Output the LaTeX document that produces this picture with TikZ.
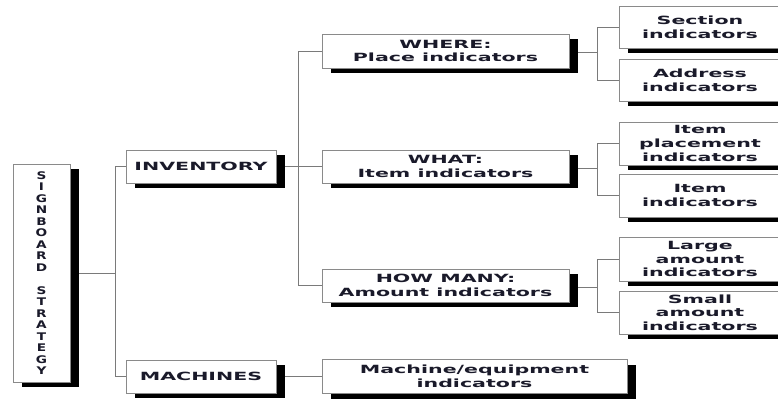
\documentclass[tikz,border=0pt]{standalone}
\usepackage{fontspec}
\newfontfamily\bx[FakeStretch=1.82]{DejaVu Sans Bold}
\newfontfamily\bv[FakeStretch=1.3]{DejaVu Sans Bold}
\usetikzlibrary{shadows,backgrounds}
\definecolor{boxgray}{HTML}{8A8A8A}
\definecolor{linegray}{HTML}{7A7A7A}
\definecolor{txt}{HTML}{1A1A2A}
\begin{document}
\begin{tikzpicture}[x=1pt,y=-1pt,
  box/.style={draw=boxgray, line width=1pt, fill=white, inner sep=0pt, align=center, text=txt,
    font=\bx\fontsize{11.3}{13.6}\selectfont,
    drop shadow={shadow xshift=9pt, shadow yshift=-5pt, fill=black, opacity=1}},
  conn/.style={draw=linegray, line width=1pt}]
\clip (0,0) rectangle (778,400);
% level 0
\node[box, minimum width=57pt, minimum height=218pt, font=\bv\fontsize{10.5}{11.5}\selectfont] (sb) at (41.5,273)
  {S\\I\\G\\N\\B\\O\\A\\R\\D\\\mbox{}\\S\\T\\R\\A\\T\\E\\G\\Y};
% level 1
\node[box, minimum width=150pt, minimum height=33pt] (inv) at (201,166.5) {INVENTORY};
\node[box, minimum width=150pt, minimum height=33pt] (mach) at (201,376.5) {MACHINES};
% level 2
\node[box, minimum width=247pt, minimum height=34pt] (where) at (445.5,51) {WHERE:\\Place indicators};
\node[box, minimum width=247pt, minimum height=33pt] (what) at (445.5,166.5) {WHAT:\\Item indicators};
\node[box, minimum width=247pt, minimum height=33pt] (howmany) at (445.5,285.5) {HOW MANY:\\Amount indicators};
\node[box, minimum width=305pt, minimum height=34pt] (meq) at (474.5,376.5) {Machine/equipment\\indicators};
% level 3
\node[box, minimum width=162pt, minimum height=42pt] (sec) at (700,27) {Section\\indicators};
\node[box, minimum width=162pt, minimum height=42pt] (addr) at (700,80) {Address\\indicators};
\node[box, minimum width=162pt, minimum height=43pt] (itpl) at (700,143.5) {Item\\placement\\indicators};
\node[box, minimum width=162pt, minimum height=43pt] (item) at (700,195.5) {Item\\indicators};
\node[box, minimum width=162pt, minimum height=44pt] (large) at (700,259) {Large\\amount\\indicators};
\node[box, minimum width=162pt, minimum height=43pt] (small) at (700,312.5) {Small\\amount\\indicators};
% junctions
\coordinate (j1) at (115,273);
\coordinate (j2) at (298,166.5);
\coordinate (j3) at (597,52);
\coordinate (j4) at (597,168);
\coordinate (j5) at (597,287);
\begin{scope}[on background layer]
\fill[white] (0,0) rectangle (778,400);
\draw[conn] (sb.east) -- (j1);
\draw[conn] (inv.west) -| (j1);
\draw[conn] (mach.west) -| (j1);
\draw[conn] (inv.east) -- (j2);
\draw[conn] (where.west) -| (j2);
\draw[conn] (what.west) -- (j2);
\draw[conn] (howmany.west) -| (j2);
\draw[conn] (mach.east) -- (meq.west);
\draw[conn] (where.east |- j3) -- (j3);
\draw[conn] (sec.west) -| (j3);
\draw[conn] (addr.west) -| (j3);
\draw[conn] (what.east |- j4) -- (j4);
\draw[conn] (itpl.west) -| (j4);
\draw[conn] (item.west) -| (j4);
\draw[conn] (howmany.east |- j5) -- (j5);
\draw[conn] (large.west) -| (j5);
\draw[conn] (small.west) -| (j5);
\end{scope}
\end{tikzpicture}
\end{document}
